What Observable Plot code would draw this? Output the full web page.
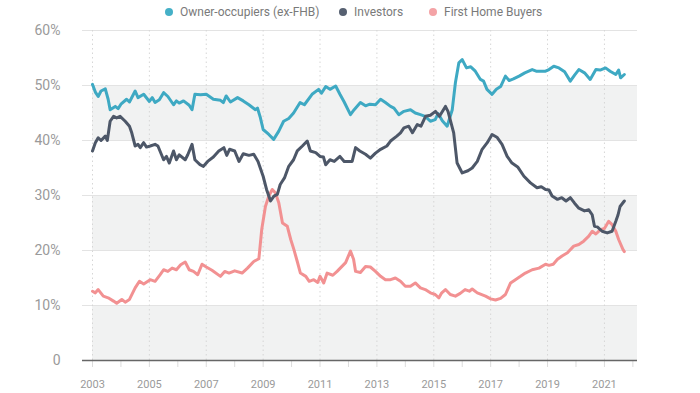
<!DOCTYPE html>
<html><head><meta charset="utf-8">
<script src="https://cdn.jsdelivr.net/npm/d3@7"></script>
<script src="https://cdn.jsdelivr.net/npm/@observablehq/plot@0.6"></script>
<style>
body{margin:0;background:#fff;font-family:Roboto,sans-serif;}
#wrap{position:relative;width:700px;height:393px;overflow:hidden;}
.lg{position:absolute;top:5px;font-size:12px;line-height:14px;color:#7a7a7a;display:flex;align-items:center;white-space:nowrap;}
.lg i{display:inline-block;width:8px;height:8px;border-radius:50%;margin-right:7px;}
#wrap svg{position:absolute;left:0;top:0;}
</style></head><body><div id="wrap"></div>
<script>
const seriesNames = ["Owner-occupiers (ex-FHB)", "Investors", "First Home Buyers"];
const seriesColors = ["#3ea9c3", "#4d5768", "#f29192"];
const legendDotColors = ["#45b0c7", "#566071", "#f4a3a6"];

const yTicks = [0, 10, 20, 30, 40, 50, 60];
const shadedBands = [[0, 10], [20, 30], [40, 50]];
const allYears = d3.range(2003, 2023);
const labelYears = [2003, 2005, 2007, 2009, 2011, 2013, 2015, 2017, 2019, 2021];

const ooYear = [2003.0,2003.1,2003.2,2003.3,2003.45,2003.55,2003.62,2003.8,2003.9,2004.0,2004.2,2004.3,2004.5,2004.6,2004.8,2005.0,2005.1,2005.2,2005.35,2005.5,2005.65,2005.85,2005.95,2006.05,2006.2,2006.4,2006.5,2006.6,2006.8,2007.0,2007.25,2007.5,2007.6,2007.7,2007.85,2008.1,2008.3,2008.5,2008.73,2008.8,2008.9,2009.0,2009.2,2009.37,2009.55,2009.72,2009.9,2010.07,2010.3,2010.45,2010.72,2010.95,2011.05,2011.2,2011.35,2011.55,2011.7,2011.85,2012.07,2012.2,2012.42,2012.6,2012.75,2012.95,2013.13,2013.3,2013.48,2013.6,2013.77,2013.95,2014.18,2014.35,2014.53,2014.7,2014.88,2015.05,2015.15,2015.3,2015.47,2015.65,2015.76,2015.88,2016.0,2016.15,2016.3,2016.46,2016.64,2016.75,2016.87,2017.05,2017.2,2017.35,2017.52,2017.65,2017.8,2018.0,2018.2,2018.46,2018.6,2018.93,2019.05,2019.22,2019.4,2019.6,2019.8,2019.95,2020.1,2020.3,2020.5,2020.7,2020.85,2021.04,2021.2,2021.4,2021.5,2021.57,2021.7];
const ooValue = [50.2,48.8,48.0,49.0,49.4,47.5,45.6,46.2,45.8,46.6,47.5,47.0,49.0,47.8,48.4,47.1,47.8,46.9,47.4,48.7,48.0,46.5,47.2,46.8,47.2,46.4,45.6,48.4,48.3,48.4,47.5,47.3,46.9,48.1,47.0,47.8,47.2,46.5,45.6,45.9,44.2,42.0,41.1,40.2,41.7,43.5,44.0,45.0,46.9,46.5,48.4,49.3,48.6,49.8,49.3,49.9,48.4,47.0,44.7,45.6,46.9,46.3,46.6,46.5,47.5,46.9,46.2,45.9,44.7,45.3,45.6,45.0,44.7,44.4,43.5,43.8,44.9,43.6,42.6,45.6,50.5,54.1,54.7,53.2,53.4,52.6,51.1,50.8,49.3,48.4,49.3,49.8,51.7,50.9,51.2,51.7,52.3,52.9,52.6,52.6,52.9,53.5,53.2,52.5,50.8,51.9,52.9,52.3,51.1,52.9,52.8,53.2,52.6,52.0,52.8,51.4,52.0];

const invYear = [2003.0,2003.1,2003.2,2003.3,2003.45,2003.52,2003.62,2003.74,2003.85,2003.97,2004.15,2004.3,2004.38,2004.5,2004.6,2004.68,2004.8,2004.9,2005.03,2005.2,2005.3,2005.5,2005.6,2005.7,2005.85,2005.95,2006.05,2006.26,2006.35,2006.5,2006.6,2006.78,2006.9,2007.05,2007.25,2007.44,2007.62,2007.72,2007.82,2008.0,2008.15,2008.3,2008.5,2008.67,2008.82,2009.0,2009.12,2009.26,2009.38,2009.5,2009.6,2009.75,2009.9,2010.07,2010.2,2010.38,2010.55,2010.66,2010.85,2011.0,2011.12,2011.2,2011.35,2011.5,2011.7,2011.85,2012.13,2012.25,2012.4,2012.6,2012.77,2012.95,2013.13,2013.35,2013.48,2013.7,2013.83,2013.95,2014.12,2014.25,2014.42,2014.55,2014.71,2014.88,2015.06,2015.2,2015.41,2015.5,2015.7,2015.82,2016.0,2016.2,2016.35,2016.53,2016.7,2016.88,2017.05,2017.22,2017.4,2017.58,2017.75,2017.95,2018.17,2018.4,2018.63,2018.78,2018.93,2019.05,2019.16,2019.35,2019.5,2019.65,2019.8,2019.95,2020.1,2020.3,2020.45,2020.57,2020.65,2020.75,2020.92,2021.1,2021.27,2021.4,2021.48,2021.55,2021.7];
const invValue = [38.1,39.6,40.5,40.0,40.8,40.0,43.5,44.4,44.1,44.4,43.5,42.6,41.4,39.0,39.3,38.7,39.6,38.8,39.0,39.3,39.0,36.5,37.1,35.9,38.1,36.5,37.4,36.5,37.4,39.3,36.5,35.6,35.3,36.2,37.0,38.1,38.7,37.3,38.4,38.1,36.2,37.6,37.3,37.5,36.2,33.5,31.1,29.0,29.9,30.2,32.0,33.2,35.3,36.5,38.1,39.0,39.9,38.1,37.8,37.1,37.0,35.6,36.5,36.2,37.1,36.2,36.2,38.7,38.1,37.5,36.8,37.7,38.4,39.0,39.9,40.8,41.4,42.3,42.6,41.4,42.9,42.6,44.4,44.6,45.3,44.4,46.2,45.3,41.4,35.9,34.1,34.5,35.0,36.2,38.4,39.6,41.1,40.6,39.3,37.1,35.9,35.2,33.5,32.3,31.4,31.6,31.1,31.0,29.9,29.3,29.6,29.0,29.6,28.6,27.7,27.2,27.4,26.5,24.4,24.3,23.5,23.2,23.5,25.3,26.5,28.0,29.0];

const fhbYear = [2003.0,2003.1,2003.2,2003.38,2003.55,2003.74,2003.85,2004.03,2004.15,2004.3,2004.5,2004.65,2004.8,2005.03,2005.2,2005.38,2005.5,2005.65,2005.8,2005.95,2006.1,2006.26,2006.4,2006.55,2006.7,2006.85,2007.0,2007.2,2007.5,2007.65,2007.8,2008.0,2008.26,2008.45,2008.67,2008.85,2008.95,2009.08,2009.2,2009.32,2009.43,2009.55,2009.68,2009.85,2009.97,2010.08,2010.2,2010.31,2010.5,2010.62,2010.78,2010.92,2011.0,2011.13,2011.25,2011.45,2011.6,2011.9,2012.07,2012.18,2012.25,2012.42,2012.6,2012.77,2012.95,2013.13,2013.3,2013.48,2013.65,2013.83,2014.0,2014.18,2014.35,2014.53,2014.7,2014.88,2015.05,2015.18,2015.28,2015.41,2015.58,2015.76,2015.93,2016.1,2016.25,2016.35,2016.53,2016.82,2017.0,2017.17,2017.35,2017.52,2017.7,2017.87,2018.05,2018.22,2018.46,2018.7,2018.93,2019.05,2019.2,2019.35,2019.51,2019.7,2019.92,2020.1,2020.27,2020.45,2020.57,2020.7,2020.86,2021.0,2021.15,2021.27,2021.4,2021.5,2021.65,2021.7];
const fhbValue = [12.6,12.3,12.9,11.7,11.4,10.8,10.4,11.1,10.6,11.1,13.2,14.4,13.9,14.7,14.4,15.6,16.5,16.2,16.8,16.5,17.4,17.9,16.5,16.2,15.6,17.5,17.0,16.4,15.3,16.2,15.9,16.3,15.9,16.8,18.0,18.5,23.8,28.0,29.9,31.1,30.5,28.7,25.0,24.4,22.0,20.2,18.0,15.9,15.3,14.4,14.7,14.2,15.3,14.1,15.9,15.5,16.2,17.8,19.9,18.4,16.2,16.0,17.1,17.0,16.2,15.3,14.7,14.7,15.0,14.4,13.5,13.5,14.1,13.2,12.9,12.3,12.0,11.4,12.3,12.9,12.0,11.7,12.2,12.9,12.6,13.0,12.3,11.7,11.2,11.0,11.3,12.0,14.1,14.7,15.3,15.9,16.5,16.8,17.5,17.3,17.5,18.4,19.0,19.6,20.8,21.1,21.7,22.6,23.5,23.0,23.8,24.0,25.3,24.7,23.5,22.0,20.2,19.8];

const toRows = (xs, ys) => xs.map((x, i) => ({x, y: ys[i]}));
const ooRows = toRows(ooYear, ooValue);
const invRows = toRows(invYear, invValue);
const fhbRows = toRows(fhbYear, fhbValue);
const bandRows = shadedBands.map(([lo, hi]) => ({lo, hi}));

const pxPerYear = 545 / (2022.163 - 2003);
const xStart = 2003 - 10 / pxPerYear;
const xEnd = 2022.163;

const lineOpts = (color) => ({x: "x", y: "y", stroke: color, strokeWidth: 3, strokeLinejoin: "round", strokeLinecap: "round"});

const chart = Plot.plot({
  width: 700,
  height: 393,
  marginLeft: 82,
  marginRight: 63,
  marginTop: 30,
  marginBottom: 33,
  style: {fontFamily: "Roboto, sans-serif", background: "transparent", overflow: "visible"},
  x: {type: "linear", domain: [xStart, xEnd], label: null},
  y: {domain: [0, 60], label: null},
  marks: [
    Plot.rect(bandRows, {x1: () => 2003, x2: () => xEnd, y1: "lo", y2: "hi", fill: "#f1f2f2"}),
    Plot.ruleY(yTicks.filter(d => d > 0), {stroke: "#e3e3e3", strokeWidth: 1}),
    Plot.ruleX(labelYears, {y1: 0, y2: 60, stroke: "#d6d6d6", strokeDasharray: "1.5,3"}),
    Plot.axisY(yTicks, {label: null, tickSize: 0, tickPadding: 22, tickFormat: d => d === 0 ? "0" : d + "%", fontSize: 14, fill: "#9a9a9a"}),
    Plot.axisX(allYears, {label: null, tickSize: 7, tickPadding: 13, tickFormat: d => labelYears.includes(d) ? String(d) : "", fontSize: 11, stroke: "#dcdcdc", fill: "#9a9a9a"}),
    Plot.ruleY([0], {stroke: "#666", strokeWidth: 1.5}),
    Plot.line(fhbRows, lineOpts(seriesColors[2])),
    Plot.line(ooRows, lineOpts(seriesColors[0])),
    Plot.line(invRows, lineOpts(seriesColors[1]))
  ]
});

const wrap = document.getElementById("wrap");
wrap.appendChild(chart);
const legendLefts = [165, 339, 429];
seriesNames.forEach((name, i) => {
  const el = document.createElement("div");
  el.className = "lg";
  el.style.left = legendLefts[i] + "px";
  el.innerHTML = `<i style="background:${legendDotColors[i]}"></i><span>${name}</span>`;
  wrap.appendChild(el);
});
</script>
</body></html>
